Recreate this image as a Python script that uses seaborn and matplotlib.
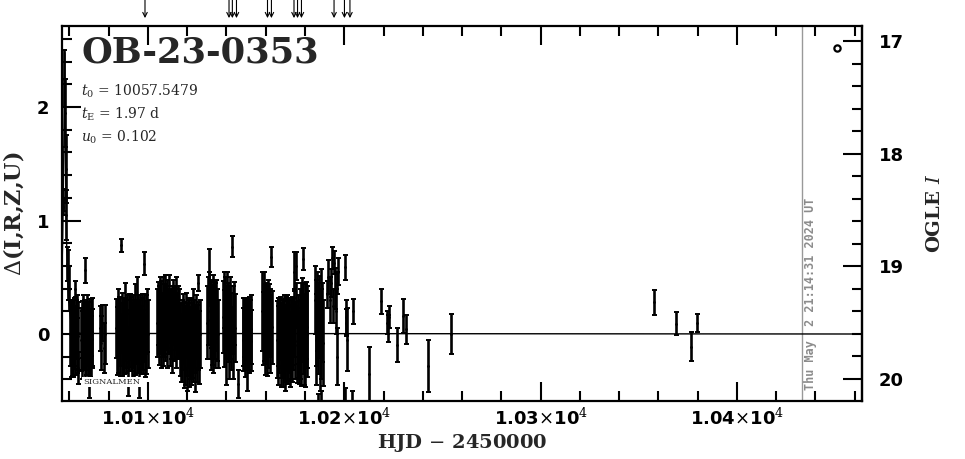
import numpy as np
import pandas as pd
import matplotlib
matplotlib.use("Agg")
import matplotlib.pyplot as plt
from matplotlib.ticker import MultipleLocator, FixedLocator, FuncFormatter
import seaborn as sns

sns.set_theme(style="ticks")
plt.rcParams['font.family'] = ['DejaVu Sans']
plt.rcParams['mathtext.fontset'] = 'dejavuserif'

# event parameters (as printed on the chart)
event_name = "OB-23-0353"
param_lines = [r"$t_0$ = 10057.5479", r"$t_{\rm E}$ = 1.97 d", r"$u_0$ = 0.102"]
date_stamp = "Thu May  2 21:14:31 2024 UT"

# alert arrows along the top (HJD - 2450000)
arrow_t = [10098.5, 10141.3, 10143.0, 10145.1, 10160.9, 10162.9,
           10174.4, 10176.2, 10178.2, 10194.8, 10200.1, 10202.9]

# model curve
model_t = [10056.2, 10056.55, 10057.05, 10057.3, 10057.55, 10057.8, 10058.05,
           10058.55, 10059.05, 10059.55, 10060.55, 10061.55, 10063.5, 10066.0, 10470.0]
model_d = [0.57, 0.82, 1.44, 1.98, 2.48, 1.98, 1.44,
           0.82, 0.50, 0.31, 0.13, 0.06, 0.016, 0.005, 0.0]

# photometry, season by season: time, delta, error
t_peak = [10056.5, 10056.8, 10057.4, 10057.7, 10058.1, 10058.4, 10058.9, 10059.4, 10059.9]
d_peak = [1.12, 1.18, 2.25, 1.95, 1.45, 1.05, 0.62, 0.52, 0.40]
e_peak = [0.07, 0.10, 0.25, 0.30, 0.30, 0.22, 0.15, 0.22, 0.20]

t_a = [10060.4, 10060.7, 10061.0, 10061.3, 10061.6, 10061.9, 10062.2, 10062.5,
       10062.8, 10063.1, 10063.4, 10063.7, 10064.0, 10064.3, 10064.6]
d_a = [0.00, -0.08, 0.05, -0.05, 0.08, -0.12, 0.02, -0.03, 0.40, -0.06, 0.04, -0.10,
       0.06, -0.30, -0.02]
e_a = [0.28, 0.30, 0.25, 0.32, 0.22, 0.26, 0.30, 0.28, 0.07, 0.30, 0.26, 0.24,
       0.28, 0.14, 0.30]

t_b = [10066.0, 10066.3, 10066.6, 10066.9, 10067.2, 10067.5, 10067.8, 10068.1,
       10068.4, 10068.7, 10069.0, 10069.3, 10069.6, 10069.9, 10070.2, 10070.5,
       10070.8, 10071.1, 10071.4, 10071.7]
d_b = [-0.05, 0.04, -0.10, 0.02, -0.06, 0.08, 0.56, -0.12, 0.00, -0.04, 0.10, -0.18,
       -0.02, 0.05, -0.30, -0.08, 0.06, -0.12, 0.02, -0.04]
e_b = [0.28, 0.25, 0.30, 0.32, 0.26, 0.22, 0.11, 0.30, 0.28, 0.32, 0.24, 0.28,
       0.30, 0.26, 0.26, 0.30, 0.25, 0.28, 0.30, 0.26]

t_c = [10075.6, 10076.2, 10076.8, 10077.4, 10077.9]
d_c = [0.05, -0.08, 0.10, -0.12, 0.00]
e_c = [0.20, 0.24, 0.16, 0.22, 0.26]

t_d = [10083.8, 10084.15, 10084.5, 10084.85, 10085.2, 10085.55, 10085.9, 10086.25,
       10086.6, 10086.95, 10087.3, 10087.65, 10088.0, 10088.35, 10088.7, 10089.05,
       10089.4, 10089.75, 10090.1, 10090.45, 10090.8, 10091.15, 10091.5, 10091.85,
       10092.2, 10092.55, 10092.9, 10093.25, 10093.6, 10093.95, 10094.3, 10094.65,
       10095.0, 10095.35, 10095.7, 10096.05, 10096.4, 10096.75, 10097.1, 10097.45,
       10097.8, 10098.15, 10098.5, 10098.85, 10099.2, 10099.55, 10099.9]
d_d = [0.05, -0.06, 0.12, -0.02, 0.08, -0.10, 0.02, 0.78, -0.05, 0.10, -0.15, 0.04,
       -0.02, 0.15, -0.08, 0.00, 0.06, -0.25, 0.03, -0.06, 0.10, -0.03, 0.05, -0.10,
       0.00, 0.08, -0.12, 0.14, -0.04, 0.02, 0.20, -0.08, 0.04, -0.02, -0.30, 0.06,
       -0.05, 0.10, 0.00, -0.07, 0.62, 0.05, -0.10, 0.08, -0.03, 0.12, 0.00]
e_d = [0.26, 0.30, 0.28, 0.32, 0.25, 0.28, 0.30, 0.06, 0.32, 0.26, 0.30, 0.28,
       0.33, 0.30, 0.26, 0.30, 0.28, 0.30, 0.32, 0.27, 0.25, 0.30, 0.28, 0.32,
       0.30, 0.26, 0.28, 0.30, 0.32, 0.28, 0.30, 0.26, 0.30, 0.32, 0.26, 0.28,
       0.30, 0.25, 0.32, 0.28, 0.10, 0.30, 0.28, 0.26, 0.32, 0.28, 0.30]

t_e = [10104.7, 10105.05, 10105.4, 10105.75, 10106.1, 10106.45, 10106.8, 10107.15,
       10107.5, 10107.85, 10108.2, 10108.55, 10108.9, 10109.25, 10109.6, 10109.95,
       10110.3, 10110.65, 10111.0, 10111.35, 10111.7, 10112.05, 10112.4, 10112.75,
       10113.1, 10113.45, 10113.8, 10114.15, 10114.5, 10114.85, 10115.2, 10115.55,
       10115.9]
d_e = [0.10, 0.18, 0.05, 0.12, 0.22, 0.00, 0.15, 0.08, 0.20, -0.02, 0.12, 0.25,
       0.06, 0.14, 0.02, 0.18, 0.10, 0.22, 0.04, 0.12, 0.08, 0.16, -0.04, 0.20,
       0.10, 0.06, 0.14, 0.00, 0.18, 0.08, 0.12, 0.04, 0.10]
e_e = [0.30, 0.28, 0.32, 0.30, 0.28, 0.30, 0.32, 0.28, 0.30, 0.26, 0.32, 0.27,
       0.30, 0.28, 0.32, 0.30, 0.28, 0.30, 0.32, 0.28, 0.30, 0.26, 0.30, 0.28,
       0.32, 0.30, 0.28, 0.30, 0.32, 0.28, 0.30, 0.26, 0.30]

t_f = [10116.5, 10116.85, 10117.2, 10117.55, 10117.9, 10118.25, 10118.6, 10118.95,
       10119.3, 10119.65, 10120.0, 10120.35, 10120.7, 10121.05, 10121.4, 10121.75,
       10122.1, 10122.45, 10122.8, 10123.15, 10123.5, 10123.85, 10124.2, 10124.55,
       10124.9, 10125.25, 10125.6, 10125.95, 10126.3]
d_f = [-0.05, -0.12, 0.02, -0.08, 0.05, -0.15, -0.02, -0.10, 0.08, -0.20, -0.05, 0.00,
       -0.12, 0.04, -0.08, -0.15, 0.02, -0.06, 0.30, -0.10, 0.00, -0.18, -0.04, 0.06,
       -0.08, -0.02, 0.45, -0.12, 0.00]
e_f = [0.32, 0.30, 0.28, 0.34, 0.30, 0.33, 0.30, 0.35, 0.28, 0.30, 0.32, 0.30,
       0.35, 0.28, 0.32, 0.30, 0.30, 0.33, 0.10, 0.32, 0.30, 0.33, 0.30, 0.28,
       0.34, 0.30, 0.07, 0.32, 0.30]

t_g = [10130.2, 10130.55, 10130.9, 10131.25, 10131.6, 10131.95, 10132.3, 10132.65,
       10133.0, 10133.35, 10133.7, 10134.05, 10134.4, 10134.75, 10135.1, 10135.45]
d_g = [0.10, 0.20, 0.55, 0.40, 0.12, 0.00, 0.18, 0.08, 0.22, -0.02, 0.12, 0.15,
       0.05, 0.20, 0.08, 0.00]
e_g = [0.32, 0.30, 0.20, 0.15, 0.34, 0.32, 0.30, 0.35, 0.30, 0.32, 0.34, 0.30,
       0.35, 0.28, 0.32, 0.30]

t_h = [10138.2, 10138.55, 10138.9, 10139.25, 10139.6, 10139.95, 10140.3, 10140.65,
       10141.0, 10141.35, 10141.7, 10142.05, 10142.4, 10142.75, 10143.1, 10143.45,
       10143.8, 10144.15, 10145.8]
d_h = [0.15, 0.30, 0.05, 0.20, 0.10, -0.10, 0.25, 0.08, 0.15, -0.05, 0.20, 0.10,
       0.02, 0.77, 0.12, -0.08, 0.18, 0.05, -0.44]
e_h = [0.32, 0.25, 0.34, 0.30, 0.32, 0.35, 0.30, 0.33, 0.30, 0.35, 0.30, 0.32,
       0.34, 0.09, 0.30, 0.32, 0.28, 0.30, 0.12]

t_i = [10148.2, 10148.55, 10148.9, 10149.25, 10149.6, 10149.95, 10150.3, 10150.65,
       10151.0, 10151.35, 10151.7, 10152.05, 10152.4, 10152.75]
d_i = [0.02, -0.05, 0.06, 0.00, -0.08, 0.04, -0.15, 0.05, -0.02, 0.08, -0.04, 0.02,
       -0.06, 0.04]
e_i = [0.30, 0.28, 0.26, 0.32, 0.30, 0.28, 0.35, 0.26, 0.30, 0.25, 0.30, 0.28,
       0.27, 0.30]

t_j = [10158.2, 10158.55, 10158.9, 10159.25, 10159.6, 10159.95, 10160.3, 10160.65,
       10161.0, 10161.35, 10161.7, 10162.05, 10162.4, 10162.75, 10163.1]
d_j = [0.20, 0.05, 0.25, 0.10, 0.00, 0.15, 0.08, -0.05, 0.18, 0.05, 0.12, 0.00,
       0.10, 0.68, 0.06]
e_j = [0.35, 0.32, 0.30, 0.34, 0.36, 0.30, 0.34, 0.32, 0.30, 0.35, 0.32, 0.34,
       0.30, 0.09, 0.32]

t_k = [10165.8, 10166.15, 10166.5, 10166.85, 10167.2, 10167.55, 10167.9, 10168.25,
       10168.6, 10168.95, 10169.3, 10169.65, 10170.0, 10170.35, 10170.7, 10171.05,
       10171.4, 10171.75, 10172.1, 10172.45, 10172.8, 10173.15, 10173.5, 10173.85,
       10174.2, 10174.55, 10174.9, 10175.25, 10175.6, 10175.95, 10176.3, 10176.65,
       10177.0]
d_k = [-0.05, 0.02, -0.10, -0.02, 0.05, -0.12, -0.06, 0.00, -0.15, -0.04, 0.04, -0.08,
       -0.20, 0.00, -0.06, 0.06, -0.10, -0.02, 0.02, -0.14, -0.05, 0.03, -0.08, 0.00,
       0.55, 0.10, -0.06, 0.60, 0.25, -0.10, 0.04, -0.05, -0.12]
e_k = [0.34, 0.30, 0.35, 0.32, 0.28, 0.35, 0.33, 0.30, 0.32, 0.35, 0.30, 0.34,
       0.30, 0.33, 0.35, 0.28, 0.34, 0.32, 0.30, 0.33, 0.35, 0.30, 0.34, 0.32,
       0.17, 0.30, 0.34, 0.12, 0.20, 0.33, 0.30, 0.34, 0.32]

t_l = [10177.4, 10177.75, 10178.1, 10178.45, 10178.8, 10179.15, 10179.5, 10179.85,
       10180.2, 10180.55, 10180.9, 10181.25]
d_l = [0.00, 0.10, -0.08, 0.15, 0.05, 0.66, -0.05, 0.08, -0.12, 0.12, 0.00, 0.06]
e_l = [0.40, 0.35, 0.38, 0.34, 0.40, 0.10, 0.40, 0.36, 0.35, 0.34, 0.38, 0.36]

t_m = [10185.1, 10185.45, 10185.8, 10186.15, 10186.5, 10186.85, 10187.2, 10187.55,
       10187.9, 10188.25, 10188.4, 10188.6, 10188.95]
d_m = [0.30, 0.10, -0.05, 0.20, 0.05, -0.75, 0.15, -0.10, 0.25, 0.00, -0.72, 0.10, -0.08]
e_m = [0.30, 0.38, 0.40, 0.35, 0.40, 0.22, 0.36, 0.40, 0.32, 0.40, 0.22, 0.35, 0.38]

t_n = [10191.3, 10191.9, 10192.5, 10193.1, 10193.7, 10194.3, 10194.8, 10195.4,
       10196.0, 10196.3, 10196.4, 10196.7]
d_n = [0.35, 0.50, 0.30, 0.45, 0.67, 0.25, 0.63, 0.40, 0.20, 0.45, -0.20, 0.55]
e_n = [0.12, 0.15, 0.20, 0.12, 0.10, 0.15, 0.10, 0.18, 0.20, 0.10, 0.25, 0.12]

t_late = [10200.2, 10200.4, 10200.9, 10201.1, 10201.4, 10203.8, 10204.4, 10212.6,
          10218.7, 10221.8, 10222.3, 10222.8, 10226.8, 10229.9, 10231.4, 10242.6,
          10254.4, 10357.8, 10369.0, 10376.6, 10379.7]
d_late = [-0.70, 0.59, 0.15, 0.10, -0.05, -0.72, 0.20, -0.35,
          0.29, 0.10, 0.05, 0.15, -0.10, 0.16, 0.04, -0.28,
          0.00, 0.28, 0.09, -0.11, 0.10]
e_late = [0.22, 0.11, 0.15, 0.12, 0.28, 0.22, 0.11, 0.24,
          0.11, 0.10, 0.12, 0.10, 0.15, 0.15, 0.13, 0.23,
          0.18, 0.11, 0.10, 0.13, 0.08]

# OGLE legend symbol (top right)
legend_t, legend_d = 10450.9, 2.52

seasons = [(t_peak, d_peak, e_peak), (t_a, d_a, e_a), (t_b, d_b, e_b), (t_c, d_c, e_c),
           (t_d, d_d, e_d), (t_e, d_e, e_e), (t_f, d_f, e_f), (t_g, d_g, e_g),
           (t_h, d_h, e_h), (t_i, d_i, e_i), (t_j, d_j, e_j), (t_k, d_k, e_k),
           (t_l, d_l, e_l), (t_m, d_m, e_m), (t_n, d_n, e_n), (t_late, d_late, e_late)]
df = pd.concat([pd.DataFrame({'t': t, 'delta': d, 'err': e}) for t, d, e in seasons],
               ignore_index=True)
model = pd.DataFrame({'t': model_t, 'delta': model_d})

fig = plt.figure(figsize=(9.65, 4.59), dpi=100)
ax = fig.add_axes([0.0642, 0.1264, 0.8290, 0.8170])
ax.set_facecolor('white')

ax.errorbar(df['t'], df['delta'], yerr=df['err'], fmt='none', ecolor='black',
            elinewidth=1.9, capsize=1.8, capthick=1.4, zorder=3)
sns.scatterplot(data=df, x='t', y='delta', ax=ax, color='black', s=4,
                linewidth=0, zorder=4, legend=False)
sns.lineplot(data=model, x='t', y='delta', ax=ax, color='black', linewidth=1.0,
             zorder=2, legend=False)
ax.plot([legend_t], [legend_d], marker='o', ms=4.5, mfc='white', mec='black', mew=1.6)

ax.set_xlim(10056.2, 10463.7)
ax.set_ylim(-0.590, 2.714)

# observation time stamp
ax.axvline(10433.1, color='#999999', lw=1.0, zorder=1)
ax.text(10434.0, -0.49, date_stamp, rotation=90, ha='left', va='bottom',
        color='#8c8c8c', fontsize=8.5, fontweight='bold', family='DejaVu Sans Mono')

ax.text(10066.9, -0.423, "SIGNALMEN", fontsize=6, family='DejaVu Serif',
        va='center', ha='left', zorder=5,
        bbox=dict(facecolor='white', edgecolor='none', pad=0.4))

ax.text(0.025, 0.975, event_name, transform=ax.transAxes, ha='left', va='top',
        fontsize=25.5, fontweight='bold', family='DejaVu Serif')
for i, line in enumerate(param_lines):
    ax.text(0.024, 0.826 - i * 0.062, line, transform=ax.transAxes, ha='left',
            va='center', fontsize=10, family='DejaVu Serif')

for t in arrow_t:
    ax.annotate('', xy=(t, 1.021), xytext=(t, 1.07),
                xycoords=('data', 'axes fraction'), textcoords=('data', 'axes fraction'),
                arrowprops=dict(arrowstyle='->', lw=0.8, color='black',
                                shrinkA=0, shrinkB=0, mutation_scale=8),
                annotation_clip=False)

for s in ax.spines.values():
    s.set_linewidth(1.6)
    s.set_color('black')

ax.xaxis.set_major_locator(MultipleLocator(100))
ax.xaxis.set_minor_locator(MultipleLocator(20))
ax.yaxis.set_major_locator(MultipleLocator(1))
ax.yaxis.set_minor_locator(MultipleLocator(0.2))
ax.xaxis.set_major_formatter(FuncFormatter(
    lambda v, p: r"%.2f$\times$10$^4$" % (v / 1e4)))
ax.tick_params(which='both', direction='in', top=True, bottom=True, left=True,
               right=False, width=1.5, colors='black')
ax.tick_params(which='major', length=14, labelsize=13)
ax.tick_params(axis='x', which='major', pad=5)
ax.tick_params(axis='y', which='major', pad=9)
ax.tick_params(which='minor', length=7)
for lab in ax.get_xticklabels() + ax.get_yticklabels():
    lab.set_fontweight('bold')

def d2i(d):
    return 19.601 - 1.0077 * d

def i2d(m):
    return (19.601 - m) / 1.0077

sec = ax.secondary_yaxis('right', functions=(d2i, i2d))
sec.yaxis.set_major_locator(FixedLocator([17, 18, 19, 20]))
sec.yaxis.set_minor_locator(MultipleLocator(0.2))
sec.tick_params(which='both', direction='in', width=1.5, colors='black')
sec.tick_params(which='major', length=14, labelsize=13, pad=12)
sec.tick_params(which='minor', length=7)
sec.spines['right'].set_linewidth(1.6)
for lab in sec.get_yticklabels():
    lab.set_fontweight('bold')
sec.set_ylabel(r"OGLE $I$", fontsize=14, fontweight='bold', family='DejaVu Serif',
               labelpad=16)

ax.set_xlabel(r"HJD $-$ 2450000", fontsize=14, fontweight='bold',
              family='DejaVu Serif', labelpad=2)
ax.set_ylabel(r"$\Delta$(I,R,Z,U)", fontsize=16, fontweight='bold',
              family='DejaVu Serif', labelpad=8)

fig.savefig('out.png', dpi=100, facecolor='white')
